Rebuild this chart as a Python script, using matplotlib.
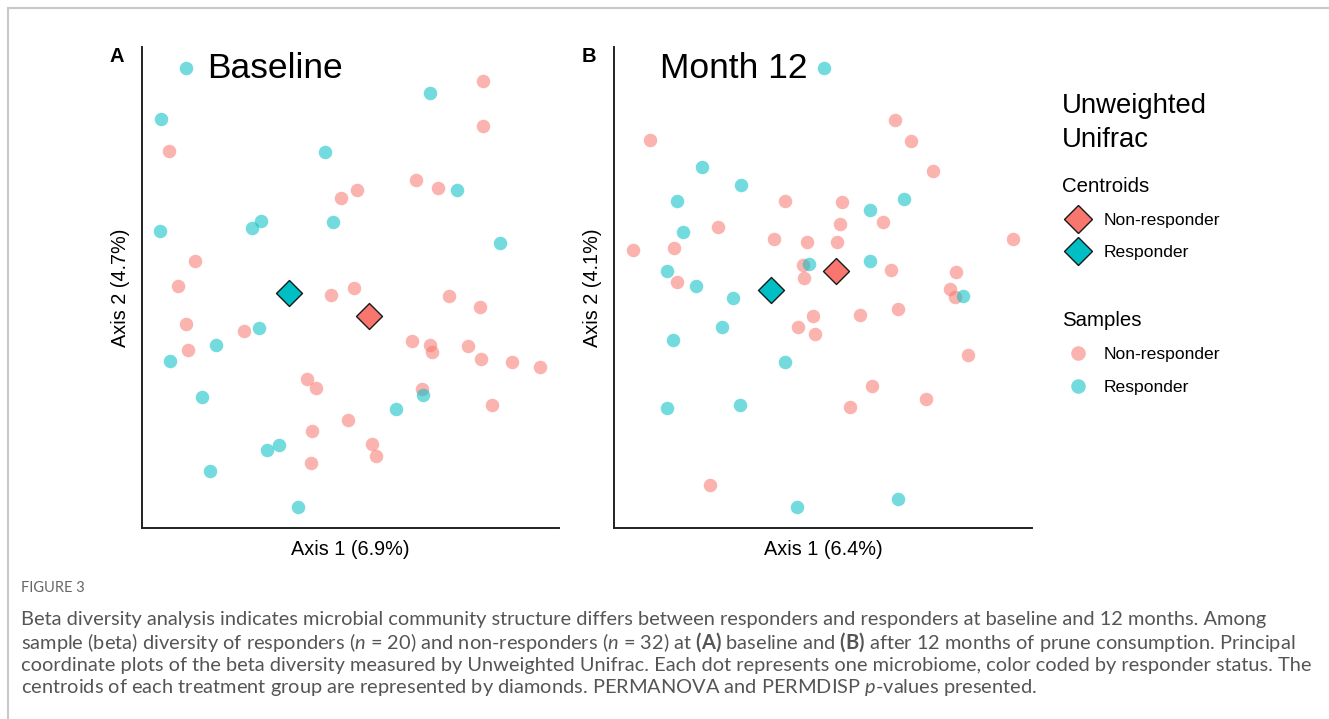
import matplotlib
matplotlib.use('Agg')
import matplotlib.pyplot as plt
from matplotlib.lines import Line2D

#-----------Data (PCoA axis units)------------------------------------

groups = ['Non-responder', 'Responder']
colors = {'Non-responder': '#F8766D', 'Responder': '#00BFC4'}

# Panel A: baseline
a_resp_x = [-0.164, 0.080, -0.189, -0.025, 0.107, -0.089, -0.098, -0.017, -0.190, 0.150,
            -0.091, -0.134, -0.180, -0.148, 0.073, 0.046, -0.071, -0.083, -0.140, -0.052]
a_resp_y = [0.232, 0.207, 0.181, 0.148, 0.110, 0.079, 0.072, 0.078, 0.069, 0.057,
            -0.028, -0.045, -0.061, -0.097, -0.095, -0.109, -0.145, -0.150, -0.171, -0.207]
a_non_x = [0.133, 0.133, -0.181, 0.066, 0.088, 0.007, -0.009, -0.155, -0.172, -0.019, 0.004,
           0.099, 0.130, -0.164, -0.106, -0.162, 0.062, 0.080, 0.082, 0.118, 0.131, 0.162,
           0.190, -0.043, -0.034, 0.072, 0.142, -0.002, -0.038, 0.022, 0.026, -0.039]
a_non_y = [0.219, 0.174, 0.149, 0.120, 0.112, 0.110, 0.102, 0.039, 0.014, 0.005, 0.012,
           0.004, -0.007, -0.024, -0.031, -0.050, -0.041, -0.045, -0.052, -0.046, -0.059, -0.062,
           -0.067, -0.079, -0.088, -0.089, -0.105, -0.120, -0.131, -0.144, -0.156, -0.163]
a_cent_x = [0.019, -0.061]   # non-responder, responder
a_cent_y = [-0.016, 0.007]

# Panel B: month 12
b_resp_x = [0.004, -0.118, -0.079, -0.143, 0.050, 0.084, -0.137, -0.153, -0.011, 0.050,
            -0.124, -0.087, 0.143, -0.098, -0.147, -0.035, -0.153, -0.080, -0.023, 0.078]
b_resp_y = [0.232, 0.133, 0.115, 0.099, 0.090, 0.101, 0.068, 0.029, 0.036, 0.039,
            0.014, 0.002, 0.004, -0.027, -0.040, -0.062, -0.108, -0.105, -0.207, -0.199]
b_non_x = [0.075, 0.091, -0.170, 0.113, -0.035, 0.022, 0.063, 0.020, -0.102, -0.046, -0.013,
           0.017, 0.193, -0.187, -0.146, -0.017, -0.016, 0.071, 0.136, -0.143, 0.130, 0.135,
           -0.007, -0.022, -0.005, 0.040, 0.078, 0.148, 0.052, 0.106, 0.030, -0.110]
b_non_y = [0.180, 0.159, 0.160, 0.129, 0.099, 0.098, 0.078, 0.076, 0.073, 0.061, 0.058,
           0.058, 0.061, 0.050, 0.052, 0.035, 0.022, 0.030, 0.028, 0.018, 0.011, 0.003,
           -0.016, -0.027, -0.034, -0.015, -0.009, -0.055, -0.086, -0.099, -0.107, -0.185]
b_cent_x = [0.016, -0.049]
b_cent_y = [0.029, 0.010]

panels = [
    dict(letter='A', title='Baseline', xlabel='Axis 1 (6.9%)', ylabel='Axis 2 (4.7%)',
         resp=(a_resp_x, a_resp_y), non=(a_non_x, a_non_y), cent=(a_cent_x, a_cent_y),
         xlim=(-0.208, 0.209), title_x=0.156),
    dict(letter='B', title='Month 12', xlabel='Axis 1 (6.4%)', ylabel='Axis 2 (4.1%)',
         resp=(b_resp_x, b_resp_y), non=(b_non_x, b_non_y), cent=(b_cent_x, b_cent_y),
         xlim=(-0.206, 0.212), title_x=0.110),
]
ylim = (-0.228, 0.253)

caption = [
    "Beta diversity analysis indicates microbial community structure differs between responders and responders at baseline and 12 months. Among",
    r"sample (beta) diversity of responders ($\it{n}$ = 20) and non-responders ($\it{n}$ = 32) at $\bf{(A)}$ baseline and $\bf{(B)}$ after 12 months of prune consumption. Principal",
    "coordinate plots of the beta diversity measured by Unweighted Unifrac. Each dot represents one microbiome, color coded by responder status. The",
    r"centroids of each treatment group are represented by diamonds. PERMANOVA and PERMDISP $\it{p}$-values presented.",
]

#-----------Figure-------------

plt.rcParams['font.family'] = ['Liberation Sans', 'DejaVu Sans']
plt.rcParams['mathtext.fontset'] = 'custom'
plt.rcParams['mathtext.rm'] = 'Lato'
plt.rcParams['mathtext.it'] = 'Lato:italic'
plt.rcParams['mathtext.bf'] = 'Lato:bold'

W, H = 1329, 719
fig = plt.figure(figsize=(W / 100, H / 100), dpi=100)

ax_pos = [[142 / W, 1 - 528 / H, 417 / W, 481 / H],
          [614 / W, 1 - 528 / H, 418 / W, 481 / H]]

for pos, p in zip(ax_pos, panels):
    ax = fig.add_axes(pos)
    ax.scatter(*p['non'], s=95, color=colors['Non-responder'], alpha=0.55, linewidths=0, zorder=2)
    ax.scatter(*p['resp'], s=95, color=colors['Responder'], alpha=0.55, linewidths=0, zorder=2)
    cx, cy = p['cent']
    for g, x, y in zip(groups, cx, cy):
        ax.scatter([x], [y], s=175, marker='D', color=colors[g], edgecolors='#1a1a1a',
                   linewidths=1.0, zorder=3)
    ax.set_xlim(p['xlim'])
    ax.set_ylim(ylim)
    ax.set_xticks([])
    ax.set_yticks([])
    for s in ['top', 'right']:
        ax.spines[s].set_visible(False)
    for s in ['left', 'bottom']:
        ax.spines[s].set_linewidth(1.4)
        ax.spines[s].set_color('#222222')
    ax.set_xlabel(p['xlabel'], fontsize=14.3, labelpad=8.5)
    ax.set_ylabel(p['ylabel'], fontsize=14.3, labelpad=9)
    ax.text(p['title_x'], 0.955, p['title'], transform=ax.transAxes, fontsize=25.5,
            va='center', ha='left', zorder=1)
    fig.text(pos[0] - 25 / W, 1 - 57 / H, p['letter'], fontsize=14.5, fontweight='bold',
             ha='center', va='center')

#-----------Legend-------------

fig.text(1062 / W, 1 - 93 / H, 'Unweighted\nUnifrac', fontsize=19.8, ha='left', va='top',
         linespacing=1.38)

cent_handles = [Line2D([], [], ls='none', marker='D', markersize=14, markerfacecolor=colors[g],
                       markeredgecolor='#1a1a1a', markeredgewidth=1.0) for g in groups]
samp_handles = [Line2D([], [], ls='none', marker='o', markersize=10.5, markerfacecolor=colors[g],
                       markeredgewidth=0, alpha=0.55) for g in groups]

leg_kw = dict(loc='upper left', frameon=False, fontsize=12.6, title_fontsize=14.7,
              alignment='left', borderpad=0, borderaxespad=0, handlelength=1.8,
              handletextpad=0.6, labelspacing=0.98)
fig.legend(cent_handles, groups, title='Centroids', bbox_to_anchor=(1062 / W, 1 - 176.5 / H), **leg_kw)
fig.legend(samp_handles, groups, title='Samples', bbox_to_anchor=(1062 / W, 1 - 311 / H), **leg_kw)

#-----------Frame and caption-------------

fig.add_artist(Line2D([8 / W, 1], [1 - 8 / H, 1 - 8 / H], transform=fig.transFigure,
                      color='#c8c8c8', lw=1.5))
fig.add_artist(Line2D([8 / W, 8 / W], [0, 1 - 8 / H], transform=fig.transFigure,
                      color='#c8c8c8', lw=1.5))

fig.text(21 / W, 1 - 588 / H, 'FIGURE 3', fontsize=10.5, color='#666666', family='Lato',
         ha='left', va='center')
for i, line in enumerate(caption):
    fig.text(21 / W, 1 - (619 + 23 * i) / H, line, fontsize=14.4, color='#555555',
             family='Lato', ha='left', va='center')

fig.savefig('out.png', dpi=100)
